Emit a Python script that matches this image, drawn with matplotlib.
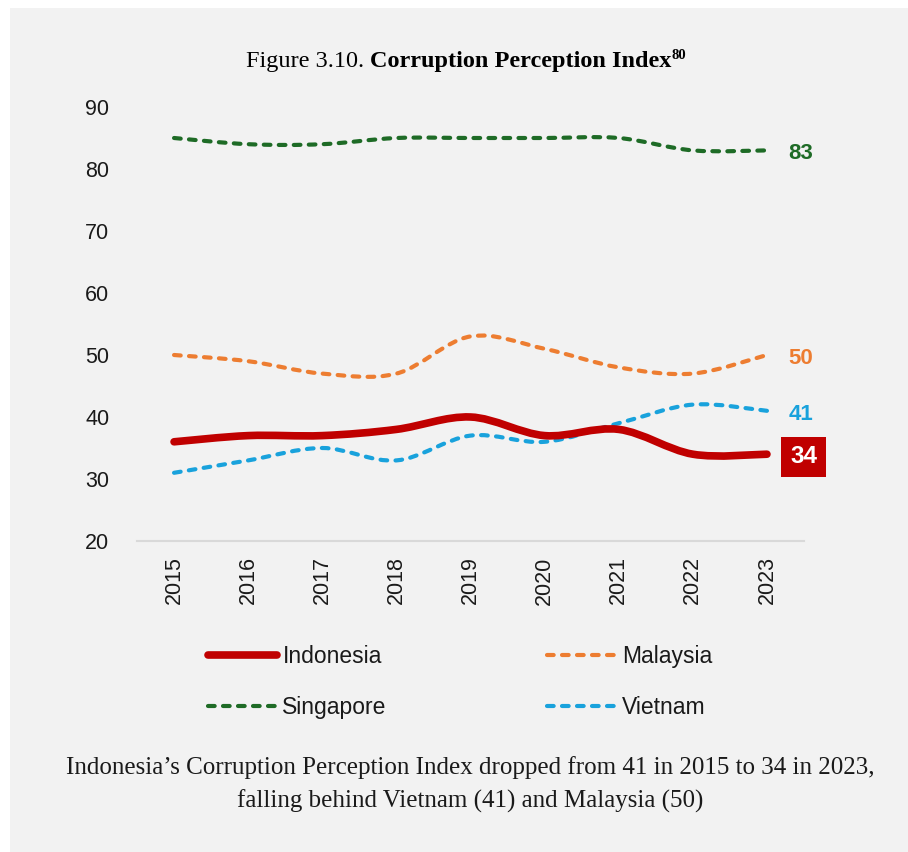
import matplotlib
matplotlib.use("Agg")
import matplotlib.pyplot as plt
from matplotlib.path import Path
from matplotlib.patches import PathPatch, Rectangle
from matplotlib.lines import Line2D
import numpy as np

years = ["2015", "2016", "2017", "2018", "2019", "2020", "2021", "2022", "2023"]
indonesia = [36, 37, 37, 38, 40, 37, 38, 34, 34]
malaysia = [50, 49, 47, 47, 53, 51, 48, 47, 50]
singapore = [85, 84, 84, 85, 85, 85, 85, 83, 83]
vietnam = [31, 33, 35, 33, 37, 36, 39, 42, 41]
end_labels = {"Singapore": "83", "Malaysia": "50", "Vietnam": "41", "Indonesia": "34"}
y_ticks = [20, 30, 40, 50, 60, 70, 80, 90]

C_IDN = "#C00000"
C_MYS = "#ED7D31"
C_SGP = "#1E6B26"
C_VNM = "#19A2DC"
BG = "#F2F2F2"

W, H = 908, 852
fig = plt.figure(figsize=(W / 100, H / 100), dpi=100, facecolor="white")
fig.patches.append(Rectangle((10 / W, 0), 1, 1 - 8 / H, transform=fig.transFigure,
                             facecolor=BG, edgecolor="none", zorder=-10))

ax = fig.add_axes([137 / W, 1 - 541 / H, (804 - 137) / W, (541 - 107) / H])
ax.set_facecolor("none")
ax.set_xlim(-0.5, 8.5)
ax.set_ylim(20, 90)
for s in ["top", "right", "left"]:
    ax.spines[s].set_visible(False)
ax.spines["bottom"].set_color("#D9D9D9")
ax.spines["bottom"].set_linewidth(1.5)
ax.set_yticks(y_ticks)
ax.set_xticks(range(len(years)))
ax.set_xticklabels(years, rotation=90)
ax.tick_params(axis="both", length=0, labelsize=15.5, colors="#1a1a1a")
ax.tick_params(axis="y", pad=20)
ax.tick_params(axis="x", pad=11)
for lab in ax.get_xticklabels() + ax.get_yticklabels():
    lab.set_fontfamily("Liberation Sans")


def smooth_path(vals):
    x = np.arange(len(vals), dtype=float)
    y = np.asarray(vals, dtype=float)
    pts = np.column_stack([x, y])
    verts = [pts[0]]
    codes = [Path.MOVETO]
    n = len(pts)
    for i in range(n - 1):
        p0 = pts[i - 1] if i > 0 else pts[i]
        p1 = pts[i]
        p2 = pts[i + 1]
        p3 = pts[i + 2] if i + 2 < n else pts[i + 1]
        c1 = p1 + (p2 - p0) / 6.0
        c2 = p2 - (p3 - p1) / 6.0
        verts += [c1, c2, p2]
        codes += [Path.CURVE4] * 3
    return Path(verts, codes)


DASH = (0, (1.6, 2.0))
series = [
    ("Singapore", singapore, C_SGP, 3.0, DASH),
    ("Malaysia", malaysia, C_MYS, 3.0, DASH),
    ("Vietnam", vietnam, C_VNM, 3.0, DASH),
    ("Indonesia", indonesia, C_IDN, 5.5, "solid"),
]
for name, vals, col, lw, ls in series:
    pp = PathPatch(smooth_path(vals), facecolor="none", edgecolor=col, lw=lw,
                   linestyle=ls, capstyle="round", joinstyle="round", zorder=3)
    ax.add_patch(pp)

# end labels
for name, vals, col, lw, ls in series:
    txt = end_labels[name]
    if name == "Indonesia":
        ax.annotate(txt, xy=(8, vals[-1]), xytext=(26.5, -2), textcoords="offset points",
                    ha="center", va="center", fontsize=17.5, fontweight="bold",
                    color="white", family="Liberation Sans", annotation_clip=False,
                    bbox=dict(boxstyle="square,pad=0.36", fc=C_IDN, ec="none"))
    else:
        ax.annotate(txt, xy=(8, vals[-1]), xytext=(24.5, -2.5), textcoords="offset points",
                    ha="center", va="center", fontsize=16, fontweight="bold",
                    color=col, family="Liberation Sans", annotation_clip=False)

# legend
handles = [
    Line2D([], [], color=C_IDN, lw=5.5, solid_capstyle="round"),
    Line2D([], [], color=C_SGP, lw=3.0, linestyle=DASH, dash_capstyle="round"),
    Line2D([], [], color=C_MYS, lw=3.0, linestyle=DASH, dash_capstyle="round"),
    Line2D([], [], color=C_VNM, lw=3.0, linestyle=DASH, dash_capstyle="round"),
]
labels = ["Indonesia", "Singapore", "Malaysia", "Vietnam"]
leg = fig.legend(handles, labels, ncol=2, loc="center", bbox_to_anchor=(460 / W, 1 - 682 / H),
                 frameon=False, prop={"family": "Liberation Sans", "size": 16.5},
                 handlelength=3.0, handletextpad=0.25, columnspacing=7.0, labelspacing=1.2)
for t in leg.get_texts():
    t.set_color("#1a1a1a")

# title (mixed regular + bold + superscript)
r = fig.canvas.get_renderer()
ty = 1 - 62 / H
t1 = fig.text(0, ty, "Figure 3.10. ", fontsize=17.5, family="Liberation Serif", va="center")
t2 = fig.text(0, ty, "Corruption Perception Index", fontsize=17.5, family="Liberation Serif",
              fontweight="bold", va="center")
t3 = fig.text(0, ty + 7 / H, "80", fontsize=10.5, family="Liberation Serif", fontweight="bold",
              va="center")
w1 = t1.get_window_extent(r).width
w2 = t2.get_window_extent(r).width
w3 = t3.get_window_extent(r).width
total = w1 + w2 + w3
x0 = 466 - total / 2
t1.set_x(x0 / W)
t2.set_x((x0 + w1) / W)
t3.set_x((x0 + w1 + w2) / W)

# caption
fig.text(470 / W, 1 - 768 / H,
         "Indonesia\u2019s Corruption Perception Index dropped from 41 in 2015 to 34 in 2023,",
         ha="center", va="center", fontsize=18, family="Liberation Serif", color="#1a1a1a")
fig.text(470 / W, 1 - 801 / H, "falling behind Vietnam (41) and Malaysia (50)",
         ha="center", va="center", fontsize=18, family="Liberation Serif", color="#1a1a1a")

fig.savefig("out.png", dpi=100, facecolor=fig.get_facecolor())
